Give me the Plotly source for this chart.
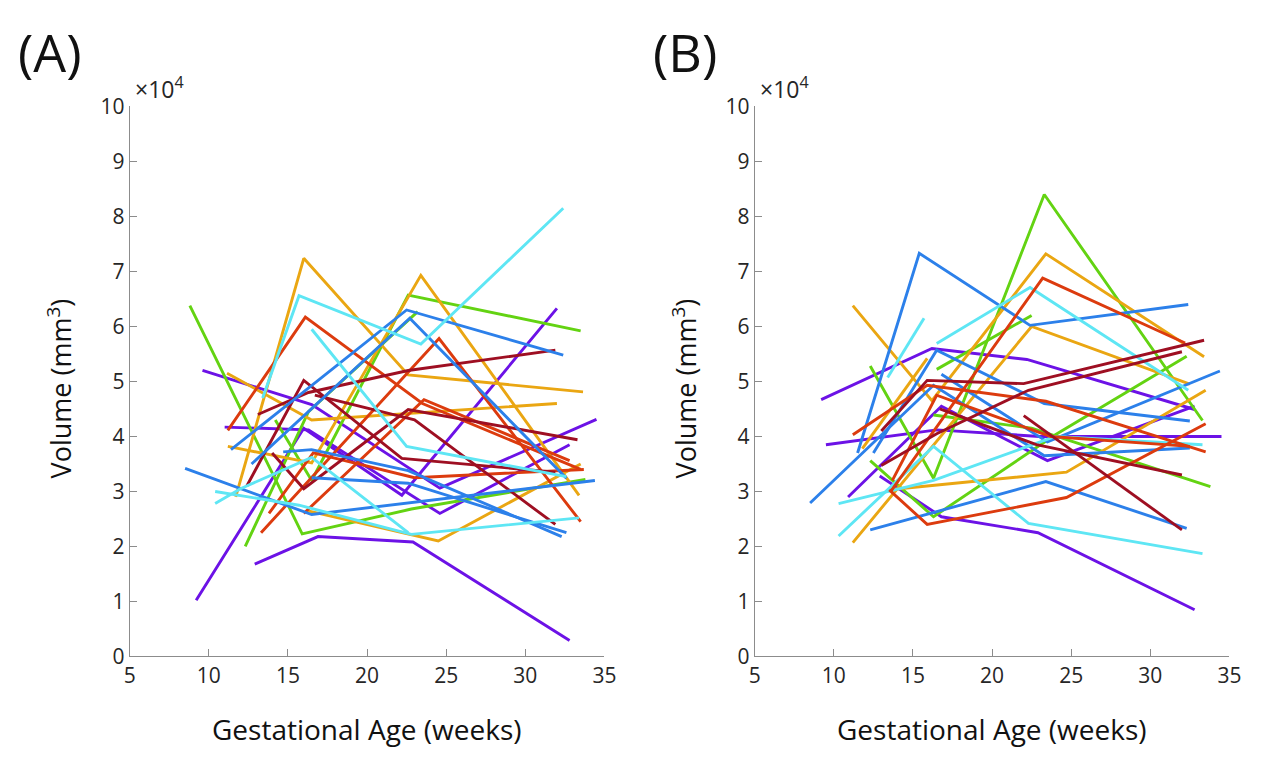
import plotly.graph_objects as go

# ---------------- data (weeks, volume in mm^3) ----------------
COL = {"purple": "#6c12e6", "blue": "#2c80ea", "cyan": "#5ee6f4", "green": "#63d312",
       "gold": "#eaa612", "red": "#dc3b0e", "dred": "#9e0f22"}

ages_A = [
    [9.2, 16.0, 22.2, 32.0], [11.0, 16.3, 24.6, 32.8], [9.6, 16.5, 24.6, 34.5], [12.9, 16.9, 22.9, 32.8],
    [8.8, 15.9, 22.8, 33.8], [12.3, 16.3, 23.2], [14.2, 16.5, 22.6, 33.5],
    [11.7, 16.0, 22.6, 33.65], [11.2, 16.5, 23.4, 33.4], [11.15, 16.5, 32.0], [16.2, 24.5, 33.5],
    [11.2, 16.1, 23.5, 33.5], [13.3, 24.55, 33.5], [13.8, 16.6, 23.0, 33.7], [16.0, 23.6, 32.8],
    [13.1, 16.3, 22.6, 31.9], [12.4, 16.0, 22.2, 31.9], [14.0, 16.0, 22.6, 33.3], [16.7, 23.0, 31.9],
    [8.5, 16.5, 34.4], [11.4, 22.5, 32.4], [12.7, 22.7, 32.6], [14.7, 16.5, 22.6, 32.3], [16.5, 22.6, 32.6],
    [13.4, 15.7, 23.4, 32.4], [16.5, 22.5, 32.6], [10.4, 15.7, 22.8, 33.4], [10.4, 12.0, 16.5, 22.6],
]
vols_A = [
    [10200, 41500, 29300, 63300], [41700, 41200, 26000, 38500], [52000, 45800, 30600, 43100], [16800, 21800, 20800, 2900],
    [63800, 22300, 26800, 32200], [20000, 44500, 62700], [43000, 32000, 65700, 59200],
    [29000, 72400, 51200, 48100], [38200, 35200, 69300, 29300], [51500, 43000, 46000], [26500, 21000, 35000],
    [41100, 61700, 46000, 34000], [22500, 57800, 24500], [26000, 37000, 32500, 34000], [26000, 46700, 35600],
    [44000, 48000, 52000, 55700], [31000, 50200, 36000, 33500], [37000, 30500, 44900, 39400], [47500, 43000, 24000],
    [34200, 25800, 32000], [37600, 63000, 54800], [35000, 61500, 32400], [37200, 37600, 33800, 21800], [32500, 31500, 22500],
    [47000, 65600, 56800, 81500], [59500, 38200, 32700], [30000, 27500, 22200, 25200], [27800, 30500, 36200, 22500],
]
colors_A = ["purple"] * 4 + ["green"] * 3 + ["gold"] * 4 + ["red"] * 4 + ["dred"] * 4 + ["blue"] * 5 + ["cyan"] * 4

ages_B = [
    [9.2, 16.2, 22.2, 32.8], [9.5, 16.5, 23.0, 34.5], [10.9, 16.8, 23.5, 32.8], [12.9, 16.8, 22.9, 32.8],
    [12.3, 16.3, 23.3, 33.3], [12.3, 16.3, 24.0, 32.3], [16.5, 22.5], [16.3, 22.5, 33.8],
    [11.2, 16.2, 23.4, 33.4], [11.2, 22.5, 32.5], [11.8, 15.9], [13.5, 24.7, 33.5],
    [11.5, 15.4, 22.4, 32.4], [8.5, 16.3, 23.3, 32.5], [12.5, 16.5, 23.3, 32.5], [12.3, 23.4, 32.3], [16.8, 23.5, 34.4],
    [13.4, 15.7], [16.5, 22.4, 32.4], [10.3, 16.3, 22.3, 33.3], [10.3, 16.3, 24.0, 33.3],
    [13.6, 23.2, 32.2], [11.2, 15.9, 23.4, 33.5], [13.5, 15.9, 24.7, 33.5], [13.7, 16.5, 23.7, 32.5],
    [13.0, 15.9, 22.0, 33.4], [13.0, 16.5, 22.3, 32.0], [22.0, 32.0], [16.7, 22.8, 32.0],
]
vols_B = [
    [46700, 56000, 54000, 44900], [38500, 41200, 40000, 40000], [29000, 45500, 35600, 45500], [32800, 25400, 22500, 8500],
    [52800, 32400, 84000, 42900], [35600, 25400, 40300, 54600], [52200, 62000], [43900, 41500, 30900],
    [63800, 46500, 73200, 54500], [20700, 60000, 49500], [37800, 54200], [30300, 33500, 48400],
    [37000, 73300, 60200, 64000], [27900, 49300, 36500, 37900], [37000, 55700, 46000, 42800], [23000, 31800, 23300], [51300, 39000, 51900],
    [50700, 61500], [56900, 67100, 48400], [21900, 38200, 24200, 18700], [27800, 32000, 40000, 38500],
    [30000, 68800, 57000], [40300, 49300, 46400, 37200], [30300, 24000, 28900, 42300], [32000, 47500, 40000, 38200],
    [41000, 50200, 49600, 57500], [34700, 40500, 48400, 55400], [43800, 23000], [45000, 38500, 33000],
]
colors_B = ["purple"] * 4 + ["green"] * 4 + ["gold"] * 4 + ["blue"] * 5 + ["cyan"] * 4 + ["red"] * 4 + ["dred"] * 4

x_ticks = [5, 10, 15, 20, 25, 30, 35]
y_ticks = [0, 10000, 20000, 30000, 40000, 50000, 60000, 70000, 80000, 90000, 100000]
y_ticktext = ["0", "1", "2", "3", "4", "5", "6", "7", "8", "9", "10"]

# ---------------- figure ----------------
W, H = 1269, 759
fig = go.Figure()

for ages, vols, cols, xa, ya in [(ages_A, vols_A, colors_A, "x", "y"), (ages_B, vols_B, colors_B, "x2", "y2")]:
    for a, v, c in zip(ages, vols, cols):
        fig.add_trace(go.Scatter(x=a, y=v, mode="lines", xaxis=xa, yaxis=ya,
                                 line=dict(color=COL[c], width=2.9), showlegend=False,
                                 hoverinfo="skip"))

FONT = "Open Sans, Noto Sans, sans-serif"
y_dom = [1 - 666 / H, 1 - 95 / H]
dom_A = [125.5 / W, 607 / W]
dom_B = [759.5 / W, 1241 / W]

def xaxis(dom, anchor):
    return dict(domain=dom, anchor=anchor, range=[5, 35], tickvals=x_ticks,
                showgrid=False, zeroline=False, showline=True, linecolor="#8c8c8c", linewidth=1.2,
                ticks="inside", ticklen=7, tickcolor="#8c8c8c", tickwidth=1.2,
                tickfont=dict(family=FONT, size=21, color="#262626"))

def yaxis(anchor):
    return dict(domain=y_dom, anchor=anchor, range=[0, 100000], tickvals=y_ticks, ticktext=y_ticktext,
                showgrid=False, zeroline=False, showline=True, linecolor="#8c8c8c", linewidth=1.2,
                ticks="inside", ticklen=7, tickcolor="#8c8c8c", tickwidth=1.2,
                tickfont=dict(family=FONT, size=21, color="#262626"))

ann = []
for dom, lab, lab_x in [(dom_A, "(A)", 10), (dom_B, "(B)", 654)]:
    x0 = dom[0]
    xc = (dom[0] + dom[1]) / 2
    ann.append(dict(text=lab, x=lab_x / W, y=1 - 38 / H, xref="paper", yref="paper",
                    xanchor="left", yanchor="middle", showarrow=False,
                    font=dict(family=FONT, size=52, color="#111111")))
    ann.append(dict(text="×10<sup>4</sup>", x=x0 + 3 / W, y=1 - 76 / H, xref="paper", yref="paper",
                    xanchor="left", yanchor="middle", showarrow=False,
                    font=dict(family=FONT, size=23, color="#262626")))
    ann.append(dict(text="Volume (mm<sup>3</sup>)", x=x0 - 71 / W, y=1 - 388 / H,
                    xref="paper", yref="paper", xanchor="center", yanchor="middle", textangle=-90,
                    showarrow=False, font=dict(family=FONT, size=27, color="#111111")))
    ann.append(dict(text="Gestational Age (weeks)", x=xc, y=1 - 741 / H, xref="paper", yref="paper",
                    xanchor="center", yanchor="middle", showarrow=False,
                    font=dict(family=FONT, size=28, color="#111111")))

fig.update_layout(
    width=W, height=H, margin=dict(l=0, r=0, t=0, b=0),
    paper_bgcolor="white", plot_bgcolor="white",
    xaxis=xaxis(dom_A, "y"), yaxis=yaxis("x"),
    xaxis2=xaxis(dom_B, "y2"), yaxis2=yaxis("x2"),
    annotations=ann,
)

fig.write_html("out.html")
